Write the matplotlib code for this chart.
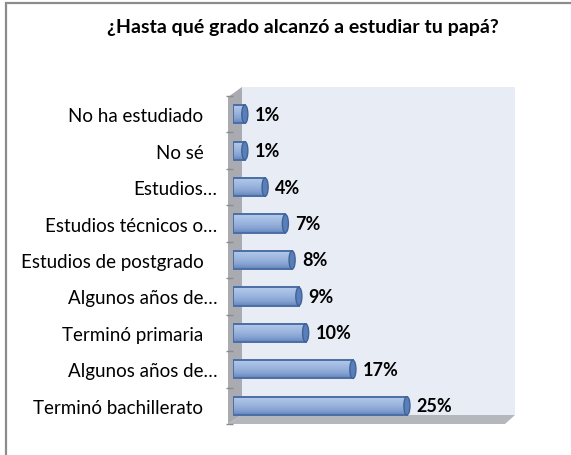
import numpy as np
import matplotlib.pyplot as plt
from matplotlib.patches import Polygon, Rectangle, Ellipse
from matplotlib.colors import LinearSegmentedColormap

W, H = 571, 456

title = '¿Hasta qué grado alcanzó a estudiar tu papá?'
categorias = ['No ha estudiado   ', 'No sé   ', 'Estudios…', 'Estudios técnicos o…',
              'Estudios de postgrado   ', 'Algunos años de…', 'Terminó primaria   ',
              'Algunos años de…', 'Terminó bachillerato   ']
valores = [1, 1, 4, 7, 8, 9, 10, 17, 25]

plt.rcParams['font.family'] = ['Lato', 'DejaVu Sans']

fig = plt.figure(figsize=(W / 100, H / 100), dpi=100)
fig.patch.set_facecolor('white')


def px(x, y):
    return (x / W, 1 - y / H)


# outer frame (cropped on right and bottom)
fig.add_artist(Rectangle(px(6, 470), (W + 20) / W, 466 / H, transform=fig.transFigure,
                         fill=False, edgecolor='#8c8c8c', lw=1.6))

# 3d walls
fig.add_artist(Polygon([px(242, 88), px(515, 88), px(515, 416), px(242, 416)],
                       closed=True, transform=fig.transFigure,
                       facecolor='#e8ecf5', edgecolor='none', zorder=0.5))
fig.add_artist(Polygon([px(228, 98), px(242, 88), px(242, 416), px(228, 425)],
                       closed=True, transform=fig.transFigure,
                       facecolor='#a9abb0', edgecolor='none', zorder=0.6))
fig.add_artist(Polygon([px(228, 425), px(505, 425), px(515, 416), px(242, 416)],
                       closed=True, transform=fig.transFigure,
                       facecolor='#b4b7bc', edgecolor='none', zorder=0.6))

ax = fig.add_axes([233 / W, 1 - 425 / H, (515 - 233) / W, (425 - 97) / H])
ax.set_zorder(2)
ax.set_facecolor('none')

y = np.arange(len(valores))
bh = 0.5
cmap = LinearSegmentedColormap.from_list('cil', ['#b6cbeb', '#a6bfe4', '#98b3dc', '#86a2d2', '#6586bc'])

bars = ax.barh(y, np.array(valores) + 0.75, left=-0.75, height=bh,
               color='none', edgecolor='#4a6ea5', lw=1.4, zorder=3)
for b, v in zip(bars, valores):
    x0, y0 = b.get_x(), b.get_y()
    im = ax.imshow(np.linspace(0, 1, 40).reshape(-1, 1), cmap=cmap, aspect='auto',
                   extent=[x0, x0 + b.get_width(), y0 + bh, y0], zorder=2,
                   interpolation='bicubic')
    im.set_clip_path(b)
    ax.add_patch(Ellipse((v, y0 + bh / 2), 0.9, bh, facecolor='#5a7fb8',
                         edgecolor='#3f6399', lw=1.0, zorder=4))
    ax.annotate(f'{v}%', (v, y0 + bh / 2), xytext=(7, 0), textcoords='offset points',
                va='center', ha='left', fontsize=13, fontweight='bold', color='black')

ax.set_xlim(-0.75, 41)
ax.set_ylim(len(valores) - 0.5, -0.5)
ax.set_yticks(y)
ax.set_yticklabels(categorias, fontsize=13.5)
ax.set_yticks(np.arange(-0.5, len(valores)), minor=True)
ax.tick_params(axis='y', which='major', length=0, pad=11)
ax.tick_params(axis='y', which='minor', length=5, color='#8c8c8c', width=1)
ax.set_xticks([])
for s in ax.spines.values():
    s.set_visible(False)

fig.text(303 / W, 1 - 28 / H, title, ha='center', va='center', fontsize=14,
         fontweight='bold')

fig.savefig('out.png', dpi=100)
